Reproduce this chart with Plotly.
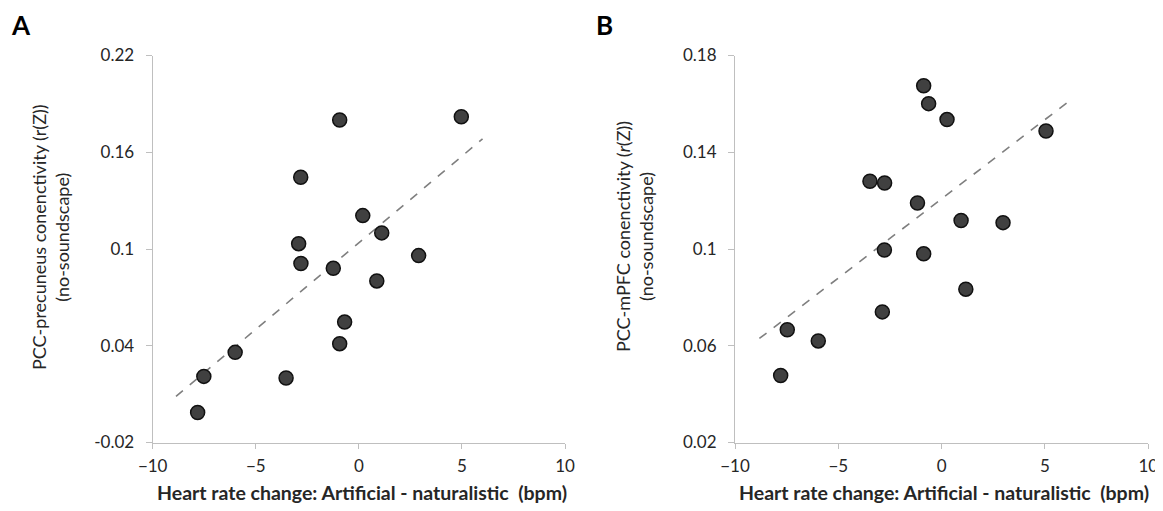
import plotly.graph_objects as go

# Panel A data
a_x = [-0.93, 4.97, -2.82, 0.19, 1.11, -2.92, -2.81, 2.9, -1.24, 0.87, -0.69, -0.93, -6.0, -7.52, -3.53, -7.82]
a_y = [0.180, 0.182, 0.1445, 0.1207, 0.110, 0.1033, 0.091, 0.0959, 0.088, 0.0802, 0.0547, 0.0413, 0.0359, 0.021, 0.020, -0.0014]
a_trend_x = [-8.87, 6.0]
a_trend_y = [0.0086, 0.1683]

# Panel B data
b_x = [-0.87, -0.63, 0.26, 5.05, -3.47, -2.76, -1.17, 0.94, 2.97, -2.77, -0.87, 1.17, -2.87, -7.47, -5.97, -7.79]
b_y = [0.1675, 0.1601, 0.1535, 0.1488, 0.128, 0.1273, 0.119, 0.1118, 0.1109, 0.0996, 0.098, 0.0834, 0.074, 0.0666, 0.062, 0.0477]
b_trend_x = [-8.82, 6.13]
b_trend_y = [0.063, 0.1609]

a_yticks = [-0.02, 0.04, 0.1, 0.16, 0.22]
a_yticktext = ["-0.02", "0.04", "0.1", "0.16", "0.22"]
b_yticks = [0.02, 0.06, 0.1, 0.14, 0.18]
b_yticktext = ["0.02", "0.06", "0.1", "0.14", "0.18"]
xticks = [-10, -5, 0, 5, 10]

FONT = "Lato, 'Open Sans', sans-serif"
AX = "#bfbfbf"
TXT = "#262626"

# page has an 8px body margin: figure is placed at (8, 8); keep it from overflowing vertically
OFF = 8
PAGE_W, PAGE_H = 1163, 511
W, H = PAGE_W - OFF, PAGE_H - 2 * OFF


def px(xp):
    return (xp - OFF) / W


def py(yp):
    return 1 - (yp - OFF) / H


fig = go.Figure()
marker = dict(size=14, color="#404040", line=dict(color="#111111", width=1.5))
trend = dict(color="#7f7f7f", width=1.6, dash="dash")

fig.add_trace(go.Scatter(x=a_trend_x, y=a_trend_y, mode="lines", line=trend, xaxis="x", yaxis="y", showlegend=False, hoverinfo="skip"))
fig.add_trace(go.Scatter(x=a_x, y=a_y, mode="markers", marker=marker, xaxis="x", yaxis="y", showlegend=False))
fig.add_trace(go.Scatter(x=b_trend_x, y=b_trend_y, mode="lines", line=trend, xaxis="x2", yaxis="y2", showlegend=False, hoverinfo="skip"))
fig.add_trace(go.Scatter(x=b_x, y=b_y, mode="markers", marker=marker, xaxis="x2", yaxis="y2", showlegend=False))

ydom = [py(442.5), py(55.5)]

common_x = dict(range=[-10, 10], tickvals=xticks, showline=True, linecolor=AX, linewidth=1.2,
                ticks="outside", ticklen=5, tickcolor=AX, showgrid=False, zeroline=False, automargin=False,
                ticklabelstandoff=3,
                tickfont=dict(family=FONT, size=17, color=TXT), fixedrange=True)
common_y = dict(showline=True, linecolor=AX, linewidth=1.2, ticks="outside", ticklen=6, tickcolor=AX,
                showgrid=False, zeroline=False, automargin=False, ticklabelstandoff=8,
                tickfont=dict(family=FONT, size=17, color=TXT),
                domain=ydom, fixedrange=True)

fig.update_layout(
    width=W, height=H, autosize=False,
    margin=dict(l=0, r=0, t=0, b=0),
    paper_bgcolor="white", plot_bgcolor="white",
    xaxis=dict(domain=[px(152.7), px(565)], anchor="y", **common_x),
    yaxis=dict(range=[-0.02, 0.22], tickvals=a_yticks, ticktext=a_yticktext, anchor="x", **common_y),
    xaxis2=dict(domain=[px(735), px(1148.3)], anchor="y2", **common_x),
    yaxis2=dict(range=[0.02, 0.18], tickvals=b_yticks, ticktext=b_yticktext, anchor="x2", **common_y),
)

annots = [
    dict(text="<b>A</b>", x=px(21), y=py(25), font=dict(size=26, family=FONT, color="black")),
    dict(text="<b>B</b>", x=px(605), y=py(25), font=dict(size=26, family=FONT, color="black")),
    dict(text="<b>Heart rate change: Artificial - naturalistic  (bpm)</b>", x=px(362), y=py(492),
         font=dict(size=19.5, family=FONT, color=TXT)),
    dict(text="<b>Heart rate change: Artificial - naturalistic  (bpm)</b>", x=px(944), y=py(492),
         font=dict(size=19.5, family=FONT, color=TXT)),
    dict(text="PCC-precuneus conenctivity (r(Z))<br>(no-soundscape)", x=px(50), y=py(237), textangle=-90,
         font=dict(size=18, family=FONT, color=TXT)),
    dict(text="PCC-mPFC conenctivity (<i>r</i>(Z))<br>(no-soundscape)", x=px(634), y=py(237), textangle=-90,
         font=dict(size=18, family=FONT, color=TXT)),
]
for a in annots:
    fig.add_annotation(xref="paper", yref="paper", xanchor="center", yanchor="middle", showarrow=False, **a)

fig.write_html("out.html")
